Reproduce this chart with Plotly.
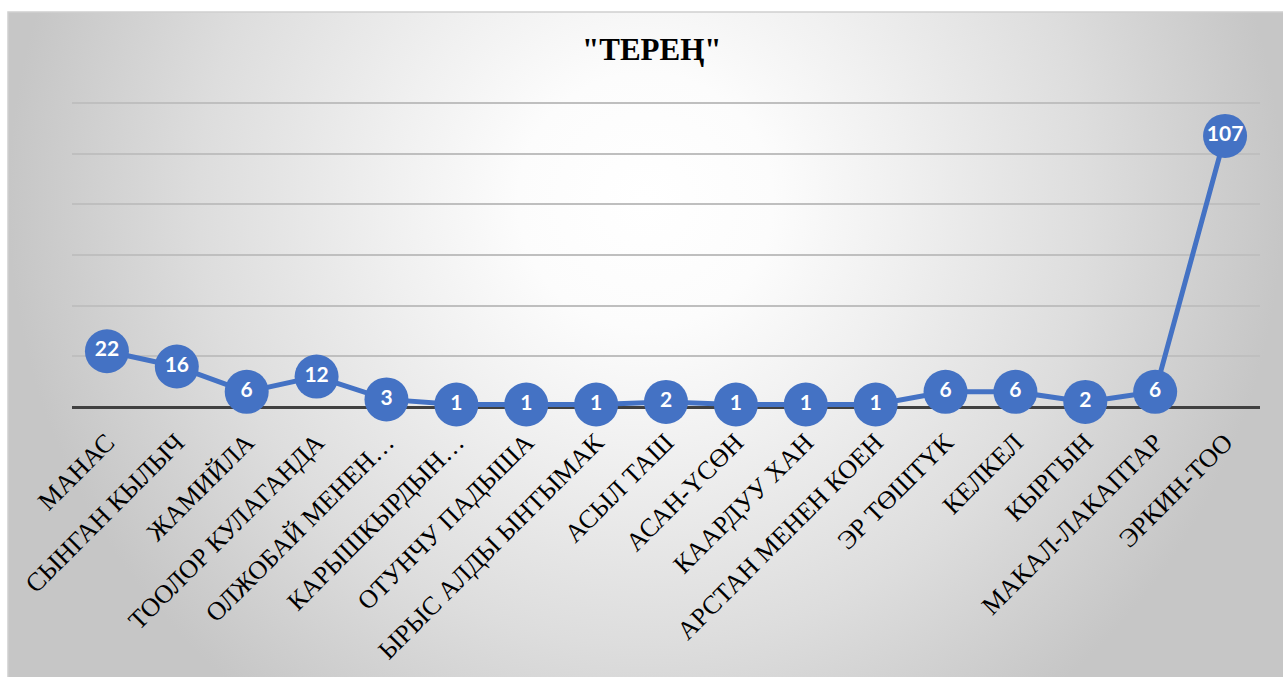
import plotly.graph_objects as go

# Works and number of entries
categories = [
    "МАНАС", "СЫНГАН КЫЛЫЧ", "ЖАМИЙЛА", "ТООЛОР КУЛАГАНДА", "ОЛЖОБАЙ МЕНЕН…",
    "КАРЫШКЫРДЫН…", "ОТУНЧУ ПАДЫША", "ЫРЫС АЛДЫ ЫНТЫМАК", "АСЫЛ ТАШ",
    "АСАН-ҮСӨН", "КААРДУУ ХАН", "АРСТАН МЕНЕН КОЕН", "ЭР ТӨШТҮК", "КЕЛКЕЛ",
    "КЫРГЫН", "МАКАЛ-ЛАКАПТАР", "ЭРКИН-ТОО",
]
values = [22, 16, 6, 12, 3, 1, 1, 1, 2, 1, 1, 1, 6, 6, 2, 6, 107]
title_text = '"ТЕРЕҢ"'

W, H = 1283, 677
BLUE = "#4472C4"
SERIF = "Liberation Serif"

fig = go.Figure()

# Soft grey-to-white radial background behind the chart area
fig.add_trace(go.Scatter(
    x=[0, 1, 1, 0, 0], y=[-0.239, -0.239, 1.673, 1.673, -0.239],
    mode="lines", line=dict(width=0), fill="toself",
    fillgradient=dict(type="radial", colorscale=[
        [0.0, "#FFFFFF"], [0.2, "#FCFCFC"], [0.4, "#F0F0F0"],
        [0.7, "#DDDDDD"], [1.0, "#C6C6C6"]]),
    hoverinfo="skip", showlegend=False, xaxis="x", yaxis="y",
))

# Main line with labelled circular markers
fig.add_trace(go.Scatter(
    x=categories, y=values, mode="lines+markers+text",
    line=dict(color=BLUE, width=5),
    marker=dict(size=44, color=BLUE, line=dict(width=0)),
    text=[str(v) for v in values], textposition="middle center",
    textfont=dict(family="Lato", size=21, color="white", weight="bold"),
    cliponaxis=False, showlegend=False, xaxis="x2", yaxis="y2",
))

fig.update_layout(
    width=W, height=H,
    margin=dict(l=0, r=0, t=0, b=0, autoexpand=False),
    paper_bgcolor="white", plot_bgcolor="rgba(0,0,0,0)",
    xaxis=dict(domain=[8 / W, 1], range=[0, 1], visible=False,
               fixedrange=True, automargin=False),
    yaxis=dict(domain=[0, (H - 12) / H], range=[0, 1], visible=False,
               fixedrange=True, automargin=False),
    xaxis2=dict(
        domain=[72 / W, 1260 / W], anchor="y2", type="category",
        range=[-0.5, len(categories) - 0.5], automargin=False,
        showgrid=False, showline=False, zeroline=False,
        tickangle=-45, ticks="", ticklabelstandoff=14,
        tickfont=dict(family=SERIF, size=26, color="black"),
    ),
    yaxis2=dict(
        domain=[(H - 407) / H, (H - 101.7) / H], anchor="x2", automargin=False,
        range=[0, 120.5], tickvals=[0, 20, 40, 60, 80, 100, 120],
        showticklabels=False,
        showgrid=True, gridcolor="#BFBFBF", gridwidth=1.5,
        zeroline=True, zerolinecolor="#404040", zerolinewidth=3,
    ),
    annotations=[dict(
        text=title_text, xref="paper", yref="paper",
        x=652 / W, y=(H - 50) / H, xanchor="center", yanchor="middle",
        showarrow=False,
        font=dict(family=SERIF, size=31, color="black", weight="bold"),
    )],
    shapes=[dict(
        type="rect", xref="paper", yref="paper",
        x0=8 / W, x1=1 + 2 / W, y0=-2 / H, y1=(H - 12) / H,
        line=dict(color="#D0D0D0", width=1.5), layer="above",
    )],
)

fig.write_html("out.html")
